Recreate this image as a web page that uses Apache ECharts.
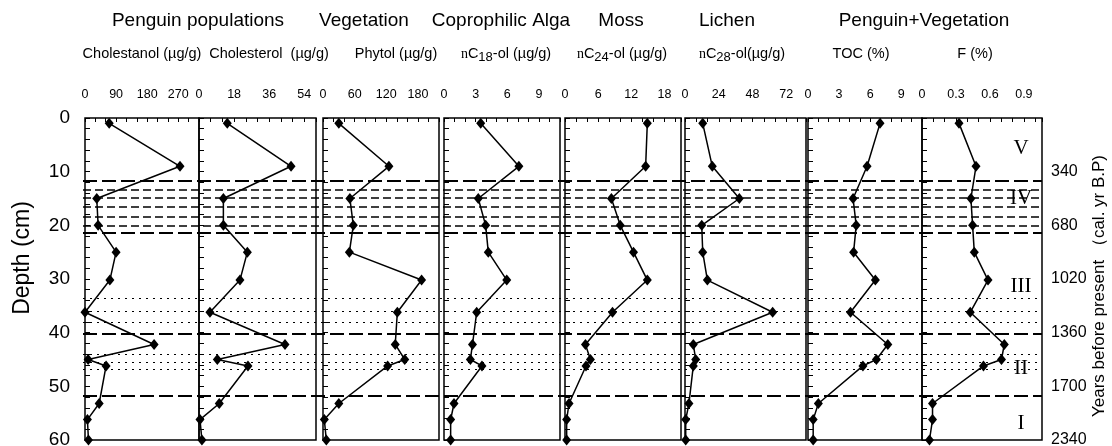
<!DOCTYPE html>
<html><head><meta charset="utf-8">
<script src="https://cdn.jsdelivr.net/npm/echarts@6/dist/echarts.min.js"></script>
<style>html,body{margin:0;padding:0;background:#fff}#c{width:1112px;height:446px}</style>
</head><body><div id="c"></div>
<script>
// ---- data ----
const depths = [1, 9, 15, 20, 25, 30.2, 36.2, 42.2, 45, 46.2, 53.2, 56.2, 60];
const cholestanol = [70, 275, 34, 38, 90, 72, 0, 200, 9, 61, 41, 7, 10];
const cholesterol = [14.5, 47.2, 12.5, 12.5, 24.8, 21, 5.6, 44.1, 9.4, 25.1, 10.4, 0.5, 1.5];
const phytol = [30, 125, 51, 57.5, 50, 187, 141, 137, 155, 122.6, 30, 2.5, 6.3];
const nC18 = [3.48, 7.1, 3.25, 3.95, 4.2, 5.95, 3.1, 2.7, 2.5, 3.6, 0.95, 0.63, 0.63];
const nC24 = [14.9, 14.6, 8.4, 10.0, 12.4, 14.9, 8.6, 3.7, 4.6, 3.8, 0.73, 0.3, 0.3];
const nC28 = [12.6, 19.4, 38.6, 11.9, 12.6, 15.9, 62.3, 5.9, 7.6, 5.9, 2.8, 0.5, 0.5];
const toc = [6.95, 5.7, 4.35, 4.65, 4.4, 6.5, 4.1, 7.7, 6.6, 5.3, 1.0, 0.5, 0.5];
const fPct = [0.327, 0.477, 0.432, 0.447, 0.462, 0.583, 0.426, 0.727, 0.702, 0.543, 0.093, 0.093, 0.066];

const cholestanolTicks = [0, 90, 180, 270];
const cholesterolTicks = [0, 18, 36, 54];
const phytolTicks = [0, 60, 120, 180];
const nC18Ticks = [0, 3, 6, 9];
const nC24Ticks = [0, 6, 12, 18];
const nC28Ticks = [0, 24, 48, 72];
const tocTicks = [0, 3, 6, 9];
const fTicks = [0, 0.3, 0.6, 0.9];

const depthTicks = [0, 10, 20, 30, 40, 50, 60];
const yearDepths = [10, 20, 30, 40, 50, 60];
const yearLabels = ['340', '680', '1020', '1360', '1700', '2340'];

const zoneLongDash = [11.75, 21.4, 40.2, 51.8];
const zoneShortDash = [13.3, 14.9, 16.6, 18.4, 20.1];
const zoneDotted = [33.6, 36.0, 38.0, 44.1, 45.5, 46.9];

const zoneNames = ['V', 'IV', 'III', 'II', 'I'];

// ---- layout ----
const panels = [
  {l: 85, r: 199, max: 330, step: 30, vals: cholestanol, ticks: cholestanolTicks},
  {l: 199, r: 316, max: 60, step: 6, vals: cholesterol, ticks: cholesterolTicks},
  {l: 323, r: 439, max: 220, step: 20, vals: phytol, ticks: phytolTicks},
  {l: 444, r: 560, max: 11, step: 1, vals: nC18, ticks: nC18Ticks},
  {l: 565, r: 681, max: 21, step: 2, vals: nC24, ticks: nC24Ticks},
  {l: 685, r: 806, max: 86, step: 8, vals: nC28, ticks: nC28Ticks},
  {l: 808, r: 922, max: 11, step: 1, vals: toc, ticks: tocTicks},
  {l: 922, r: 1042, max: 1.06, step: 0.1, vals: fPct, ticks: fTicks}
];
const TOP = 118, H = 322;
const FONT = '"Liberation Sans", Arial, sans-serif';
const SERIF = '"Liberation Serif", "Times New Roman", serif';

const grid = panels.map(p => ({left: p.l, width: p.r - p.l, top: TOP, height: H, show: true,
  borderColor: '#000', borderWidth: 1.5, backgroundColor: 'transparent', outerBoundsMode: 'none'}));
grid.push({left: 83, width: 1042 - 83, top: TOP, height: H, outerBoundsMode: 'none'});

const xAxis = panels.map((p, i) => ({
  type: 'value', gridIndex: i, position: 'top', min: 0, max: p.max, interval: p.step,
  axisLine: {show: false},
  axisTick: {show: true, inside: true, length: 4, lineStyle: {color: '#000', width: 1}},
  splitLine: {show: false},
  axisLabel: {margin: 17, fontSize: 12.5, color: '#000', fontFamily: FONT, showMaxLabel: true,
    formatter: v => { const t = p.ticks.find(t => Math.abs(t - v) < 1e-6); return t === undefined ? '' : String(t); }}
}));
xAxis.push({type: 'value', gridIndex: 8, min: 0, max: 1, show: false});

const yAxis = panels.map((p, i) => ({
  type: 'value', gridIndex: i, inverse: true, min: 0, max: 60, interval: 2,
  axisLine: {show: false},
  axisTick: {show: true, inside: true, length: 5, lineStyle: {color: '#000', width: 1}},
  splitLine: {show: false},
  axisLabel: {show: i === 0, margin: 15, fontSize: 19, color: '#000', fontFamily: FONT,
    formatter: v => depthTicks.indexOf(v) >= 0 ? String(v) : ''}
}));
yAxis.push({
  type: 'value', gridIndex: 7, position: 'right', inverse: true, min: 0, max: 60, interval: 10,
  axisLine: {show: false}, axisTick: {show: false}, splitLine: {show: false},
  axisLabel: {margin: 9, fontSize: 16, color: '#000', fontFamily: FONT,
    formatter: v => { const k = yearDepths.indexOf(v); return k >= 0 ? yearLabels[k] : ''; }}
});
yAxis.push({type: 'value', gridIndex: 8, inverse: true, min: 0, max: 60, show: false});

const series = panels.map((p, i) => ({
  type: 'line', xAxisIndex: i, yAxisIndex: i,
  data: p.vals.map((v, k) => [v, depths[k]]),
  symbol: 'diamond', symbolSize: [9, 11], showAllSymbol: true, clip: false,
  itemStyle: {color: '#000'}, lineStyle: {color: '#000', width: 1.5}, z: 5
}));
const zl = [];
zoneLongDash.forEach(d => zl.push({yAxis: d, lineStyle: {type: [14, 5], width: 2, color: '#000'}}));
zoneShortDash.forEach(d => zl.push({yAxis: d, lineStyle: {type: [8, 4], width: 1.5, color: '#000'}}));
zoneDotted.forEach(d => zl.push({yAxis: d, lineStyle: {type: [2, 5], width: 1, color: '#000'}}));
series.push({type: 'line', xAxisIndex: 8, yAxisIndex: 9, data: [], z: 3,
  markLine: {silent: true, symbol: ['none', 'none'], label: {show: false}, animation: false, data: zl}});

function txt(text, x, y, size, extra) {
  return Object.assign({type: 'text', x: x, y: y, silent: true,
    style: {text: text, fill: '#000', font: size + 'px ' + FONT, align: 'center', verticalAlign: 'middle'}}, extra || {});
}
function sub(num, rest, x) {
  return {type: 'text', x: x, y: 54, silent: true, style: {
    text: '{n|n}{c|C}{s|' + num + '}{c|' + rest + '}', align: 'center', verticalAlign: 'middle', fill: '#000',
    rich: {
      n: {fontFamily: SERIF, fontSize: 14, lineHeight: 20, fill: '#000'},
      c: {fontFamily: FONT, fontSize: 14.5, lineHeight: 20, fill: '#000'},
      s: {fontFamily: FONT, fontSize: 13, fill: '#000', verticalAlign: 'bottom'}
    }}};
}
const romanY = [148, 198, 286, 368, 423];
const graphic = [
  txt('Penguin populations', 198, 21, 19),
  txt('Vegetation', 364, 21, 19),
  txt('Coprophilic Alga', 501, 21, 19),
  txt('Moss', 621, 21, 19),
  txt('Lichen', 727, 21, 19),
  txt('Penguin+Vegetation', 924, 21, 19),
  txt('Cholestanol (µg/g)', 142, 54, 14.5),
  txt('Cholesterol  (µg/g)', 269, 54, 14.5),
  txt('Phytol (µg/g)', 396, 54, 14.5),
  sub('18', '-ol (µg/g)', 506),
  sub('24', '-ol (µg/g)', 622),
  sub('28', '-ol(µg/g)', 742),
  txt('TOC (%)', 861, 54, 14.5),
  txt('F (%)', 975, 54, 14.5),
  txt('Depth (cm)', 23, 258, 23, {rotation: Math.PI / 2}),
  txt('Years before present （cal. yr B.P)', 1099, 286, 17, {rotation: Math.PI / 2})
];
zoneNames.forEach((n, k) => graphic.push({type: 'text', x: 1021, y: romanY[k], silent: true,
  style: {text: n, fill: '#000', font: '21px ' + SERIF, align: 'center', verticalAlign: 'middle'}}));

const chart = echarts.init(document.getElementById('c'), null, {renderer: 'canvas'});
chart.setOption({animation: false, backgroundColor: '#fff', grid, xAxis, yAxis, series, graphic});
</script></body></html>
